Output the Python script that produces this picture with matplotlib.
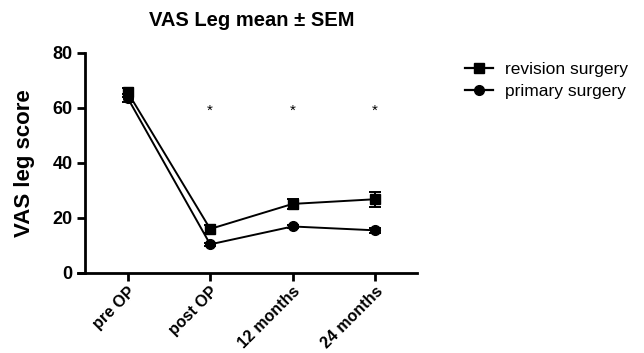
import matplotlib
matplotlib.use("Agg")
import matplotlib.pyplot as plt
from matplotlib.lines import Line2D
import numpy as np

plt.rcParams['font.family'] = ['Liberation Sans', 'DejaVu Sans']

timepoints = ['pre OP', 'post OP', '12 months', '24 months']
revision_mean = [65.5, 15.9, 25.0, 26.7]
revision_sem = [1.8, 1.3, 1.8, 2.8]
primary_mean = [63.4, 10.3, 16.8, 15.4]
primary_sem = [1.4, 0.6, 0.7, 0.8]
star_points = [1, 2, 3]
star_level = 59

fig = plt.figure(figsize=(6.44, 3.53), dpi=100)
ax = fig.add_axes([0.1211, 0.2275, 0.5264, 0.6235])

x = np.arange(len(timepoints))
ax.errorbar(x, revision_mean, yerr=revision_sem, color='black', marker='s',
            markersize=7, linewidth=1.4, capsize=4, elinewidth=1.4,
            capthick=1.4)
ax.errorbar(x, primary_mean, yerr=primary_sem, color='black', marker='o',
            markersize=7, linewidth=1.4, capsize=4, elinewidth=1.4,
            capthick=1.4)

for p in star_points:
    ax.text(p, star_level, '*', ha='center', va='center', fontsize=11)

ax.set_xlim(-0.605, 3.51)
ax.set_ylim(0, 80)
ax.spines['left'].set_position(('data', -0.52))
ax.set_yticks([0, 20, 40, 60, 80])
ax.set_xticks(x)
ax.set_xticklabels(timepoints, rotation=45, ha='right', rotation_mode='anchor',
                   fontweight='bold', fontsize=11.5)
for lbl in ax.get_yticklabels():
    lbl.set_fontweight('bold')
    lbl.set_fontsize(13)

for s in ['top', 'right']:
    ax.spines[s].set_visible(False)
for s in ['left', 'bottom']:
    ax.spines[s].set_linewidth(2)
ax.tick_params(width=2, length=6, pad=3)
ax.tick_params(axis='x', pad=2)

fig.text(25 / 644, 0.538, 'VAS leg score', rotation=90, ha='center',
         va='center', fontweight='bold', fontsize=16)
fig.text(252 / 644, 1 - 20 / 353, 'VAS Leg mean ± SEM', ha='center',
         va='center', fontweight='bold', fontsize=14.5)

handles = [Line2D([], [], color='black', marker='s', markersize=7, linewidth=1.6),
           Line2D([], [], color='black', marker='o', markersize=7, linewidth=1.6)]
labels = ['revision surgery', 'primary surgery']
fig.legend(handles, labels, loc='upper left', bbox_to_anchor=(0.698, 0.868),
           frameon=False, fontsize=12.5, handlelength=1.6, handletextpad=0.7,
           labelspacing=0.4)

fig.savefig('out.png', dpi=100)
